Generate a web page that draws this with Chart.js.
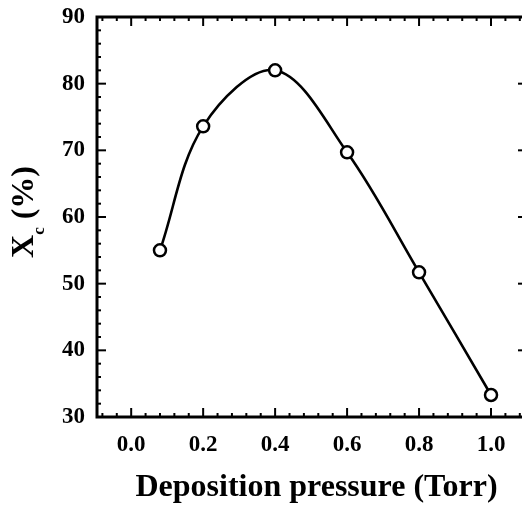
<!DOCTYPE html>
<html><head><meta charset="utf-8">
<script src="https://cdn.jsdelivr.net/npm/chart.js@4.4.0/dist/chart.umd.min.js"></script>
<style>html,body{margin:0;padding:0;background:#fff;overflow:hidden;width:522px;height:505px}
#wrap{width:530px;height:505px}</style></head>
<body><div id="wrap"><canvas id="c" width="530" height="505"></canvas></div>
<script>
const pressure = [0.08, 0.2, 0.4, 0.6, 0.8, 1.0];
const crystallinity = [55.0, 73.6, 82.0, 69.7, 51.7, 33.3];
const xTickValues = [0.0, 0.2, 0.4, 0.6, 0.8, 1.0];
const yTickValues = [30, 40, 50, 60, 70, 80, 90];
const xTitle = 'Deposition pressure (Torr)';
const yTitleMain = 'X', yTitleSub = 'c', yTitleRest = ' (%)';

const FONT = '"Liberation Serif", "Times New Roman", serif';

const zeroPad = s => { s.paddingTop = 0; s.paddingBottom = 0; s.paddingLeft = 0; s.paddingRight = 0; };

const framePlugin = {
  id: 'frame',
  afterDraw(chart) {
    const {ctx, chartArea: a, scales: {x, y}} = chart;
    ctx.save();
    ctx.strokeStyle = '#000';
    ctx.lineCap = 'butt';
    ctx.lineWidth = 2;
    const seg = (x1, y1, x2, y2) => { ctx.beginPath(); ctx.moveTo(x1, y1); ctx.lineTo(x2, y2); ctx.stroke(); };
    for (let i = -2; i <= 27; i++) {
      const v = i * 0.04;
      const px = x.getPixelForValue(v);
      if (px < a.left + 1 || px > a.right - 1) continue;
      const major = xTickValues.some(t => Math.abs(t - v) < 1e-6);
      const L = major ? 9 : 4;
      seg(px, a.bottom, px, a.bottom - L);
      seg(px, a.top, px, a.top + L);
    }
    for (let i = 15; i <= 45; i++) {
      const v = i * 2;
      const py = y.getPixelForValue(v);
      const major = yTickValues.includes(v);
      const L = major ? 9 : 4;
      seg(a.left, py, a.left + L, py);
      seg(a.right, py, a.right - L, py);
    }
    ctx.lineWidth = 3;
    ctx.strokeRect(a.left, a.top, a.right - a.left, a.bottom - a.top);

    ctx.fillStyle = '#000';
    ctx.font = 'bold 32px ' + FONT;
    ctx.textAlign = 'center';
    ctx.textBaseline = 'alphabetic';
    ctx.fillText(xTitle, 316.5, 496);

    ctx.translate(22.5, 212);
    ctx.rotate(-Math.PI / 2);
    ctx.textAlign = 'left';
    const mainFont = 'bold 32px ' + FONT, subFont = 'bold 17px ' + FONT;
    ctx.font = mainFont; const wX = ctx.measureText(yTitleMain).width; const wR = ctx.measureText(yTitleRest).width;
    ctx.font = subFont; const wc = ctx.measureText(yTitleSub).width;
    let sx = -(wX + wc + wR) / 2;
    ctx.font = mainFont; ctx.fillText(yTitleMain, sx, 10.5); sx += wX;
    ctx.font = subFont; ctx.fillText(yTitleSub, sx, 21.5); sx += wc;
    ctx.font = mainFont; ctx.fillText(yTitleRest, sx, 10.5);
    ctx.restore();
  }
};

new Chart(document.getElementById('c'), {
  type: 'line',
  data: {
    datasets: [{
      data: pressure.map((p, i) => ({x: p, y: crystallinity[i]})),
      borderColor: '#000',
      borderWidth: 2.6,
      tension: 0.35,
      pointRadius: 6,
      pointBorderWidth: 2.5,
      pointBackgroundColor: '#fff',
      pointBorderColor: '#000',
      fill: false
    }]
  },
  options: {
    responsive: false,
    animation: false,
    devicePixelRatio: 1,
    layout: {autoPadding: false, padding: {top: 17, right: 3, left: 0, bottom: 0}},
    plugins: {legend: {display: false}, tooltip: {enabled: false}},
    scales: {
      x: {
        type: 'linear', min: -0.095, max: 1.1,
        afterBuildTicks: s => { s.ticks = xTickValues.map(v => ({value: v})); },
        afterFit: s => { s.height = 88; zeroPad(s); },
        grid: {display: false, drawTicks: false},
        border: {display: false},
        ticks: {padding: 14, color: '#000', autoSkip: false, maxRotation: 0,
          font: {family: FONT, size: 23, weight: 'bold'},
          callback: v => Number(v).toFixed(1)}
      },
      y: {
        type: 'linear', min: 30, max: 90,
        afterBuildTicks: s => { s.ticks = yTickValues.map(v => ({value: v})); },
        afterFit: s => { s.width = 97; zeroPad(s); },
        grid: {display: false, drawTicks: false},
        border: {display: false},
        ticks: {padding: 12, color: '#000',
          font: {family: FONT, size: 23, weight: 'bold'},
          callback: v => String(v)}
      }
    }
  },
  plugins: [framePlugin]
});
</script>
</body></html>
